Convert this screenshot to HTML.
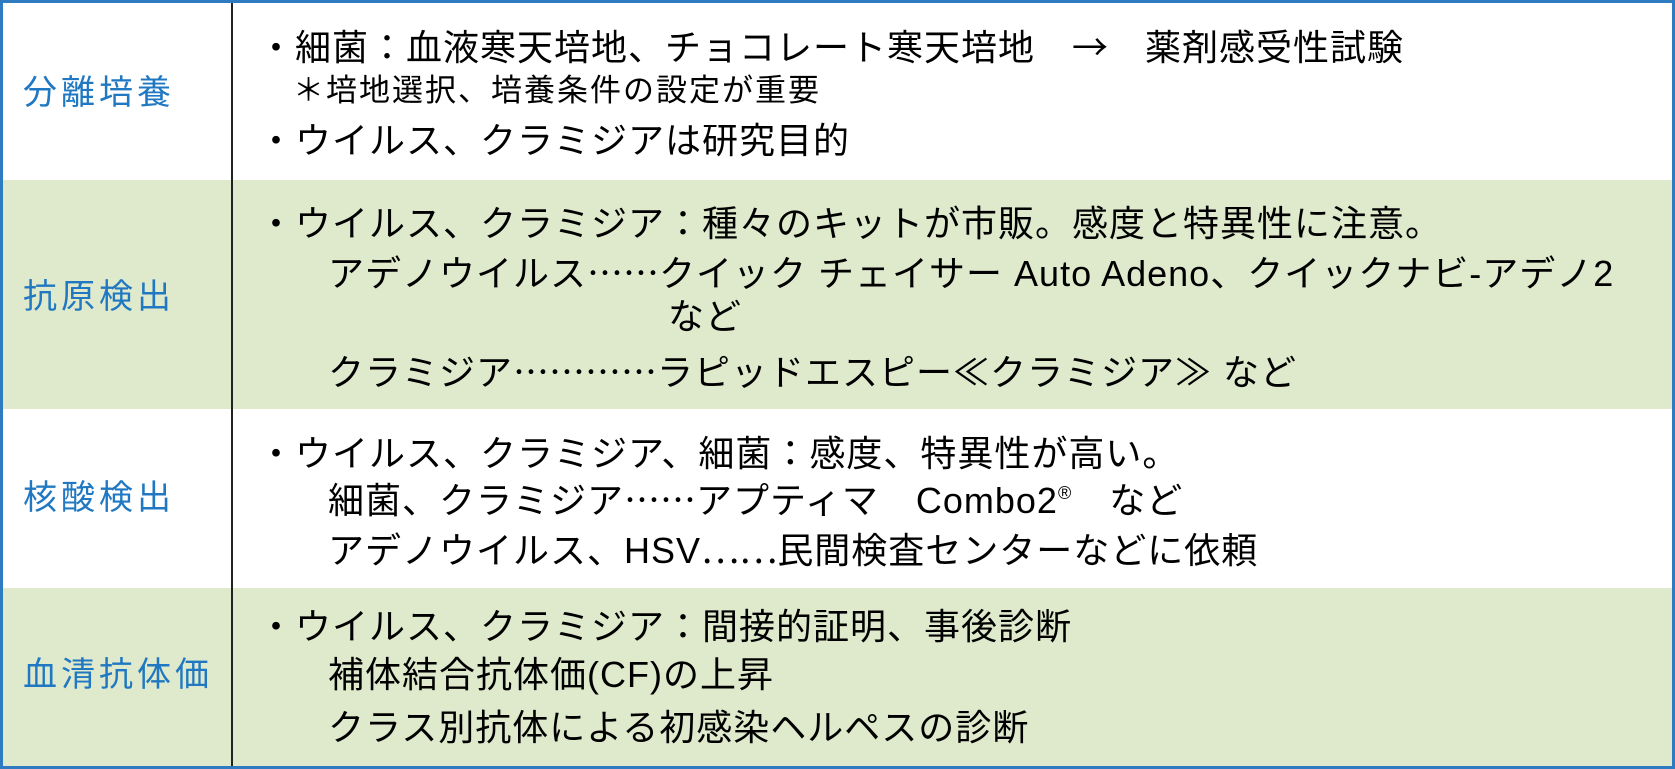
<!DOCTYPE html>
<html><head><meta charset="utf-8"><style>
*{margin:0;padding:0;box-sizing:border-box}
body{width:1675px;height:769px;background:#fff;position:relative;overflow:hidden;font-family:"Liberation Sans","Noto Sans CJK JP",sans-serif;color:#000}
.row{position:absolute;left:0;width:1675px}
.g{background:#dfe9cc}
.frame{position:absolute;left:0;top:0;width:1675px;height:769px;border:3px solid #2f7bc1}
.div{position:absolute;left:231px;top:0;width:2px;height:769px;background:#222}
.lab{position:absolute;left:23px;font-size:34px;letter-spacing:4px;color:#1f78c1;line-height:40px;white-space:nowrap}
.t{position:absolute;font-size:36px;letter-spacing:1px;line-height:40px;white-space:nowrap}
.s{font-size:31px;letter-spacing:2px}
.j{font-family:"Noto Sans CJK JP",sans-serif;letter-spacing:0}
sup{font-size:18px;vertical-align:14px;line-height:0}
</style></head><body>
<div class="row" style="top:0;height:180px"></div>
<div class="row g" style="top:180px;height:229px"></div>
<div class="row" style="top:409px;height:179px"></div>
<div class="row g" style="top:588px;height:181px"></div>
<div class="div"></div>
<div class="frame"></div>

<div class="lab" style="top:73px">分離培養</div>
<div class="lab" style="top:277px">抗原検出</div>
<div class="lab" style="top:478px">核酸検出</div>
<div class="lab" style="top:655px">血清抗体価</div>

<div class="t" style="left:258px;top:25px">・細菌：血液寒天培地、チョコレート寒天培地　<span class="j">→</span>　薬剤感受性試験</div>
<div class="t s" style="left:293px;top:71px">＊培地選択、培養条件の設定が重要</div>
<div class="t" style="left:258px;top:121px">・ウイルス、クラミジアは研究目的</div>

<div class="t" style="left:258px;top:204px">・ウイルス、クラミジア：種々のキットが市販。感度と特異性に注意。</div>
<div class="t" style="left:328px;top:251px">アデノウイルス<span class="j">……</span>クイック チェイサー Auto Adeno、クイックナビ-アデノ2</div>
<div class="t" style="left:668px;top:297px">など</div>
<div class="t" style="left:328px;top:350px">クラミジア<span class="j">…………</span>ラピッドエスピー≪クラミジア≫ など</div>

<div class="t" style="left:258px;top:434px">・ウイルス、クラミジア、細菌：感度、特異性が高い。</div>
<div class="t" style="left:328px;top:478px">細菌、クラミジア<span class="j">……</span>アプティマ　Combo2<sup>®</sup>　など</div>
<div class="t" style="left:328px;top:528px">アデノウイルス、HSV<span class="j">……</span>民間検査センターなどに依頼</div>

<div class="t" style="left:258px;top:607px">・ウイルス、クラミジア：間接的証明、事後診断</div>
<div class="t" style="left:328px;top:655px">補体結合抗体価(CF)の上昇</div>
<div class="t" style="left:328px;top:708px">クラス別抗体による初感染ヘルペスの診断</div>
</body></html>
